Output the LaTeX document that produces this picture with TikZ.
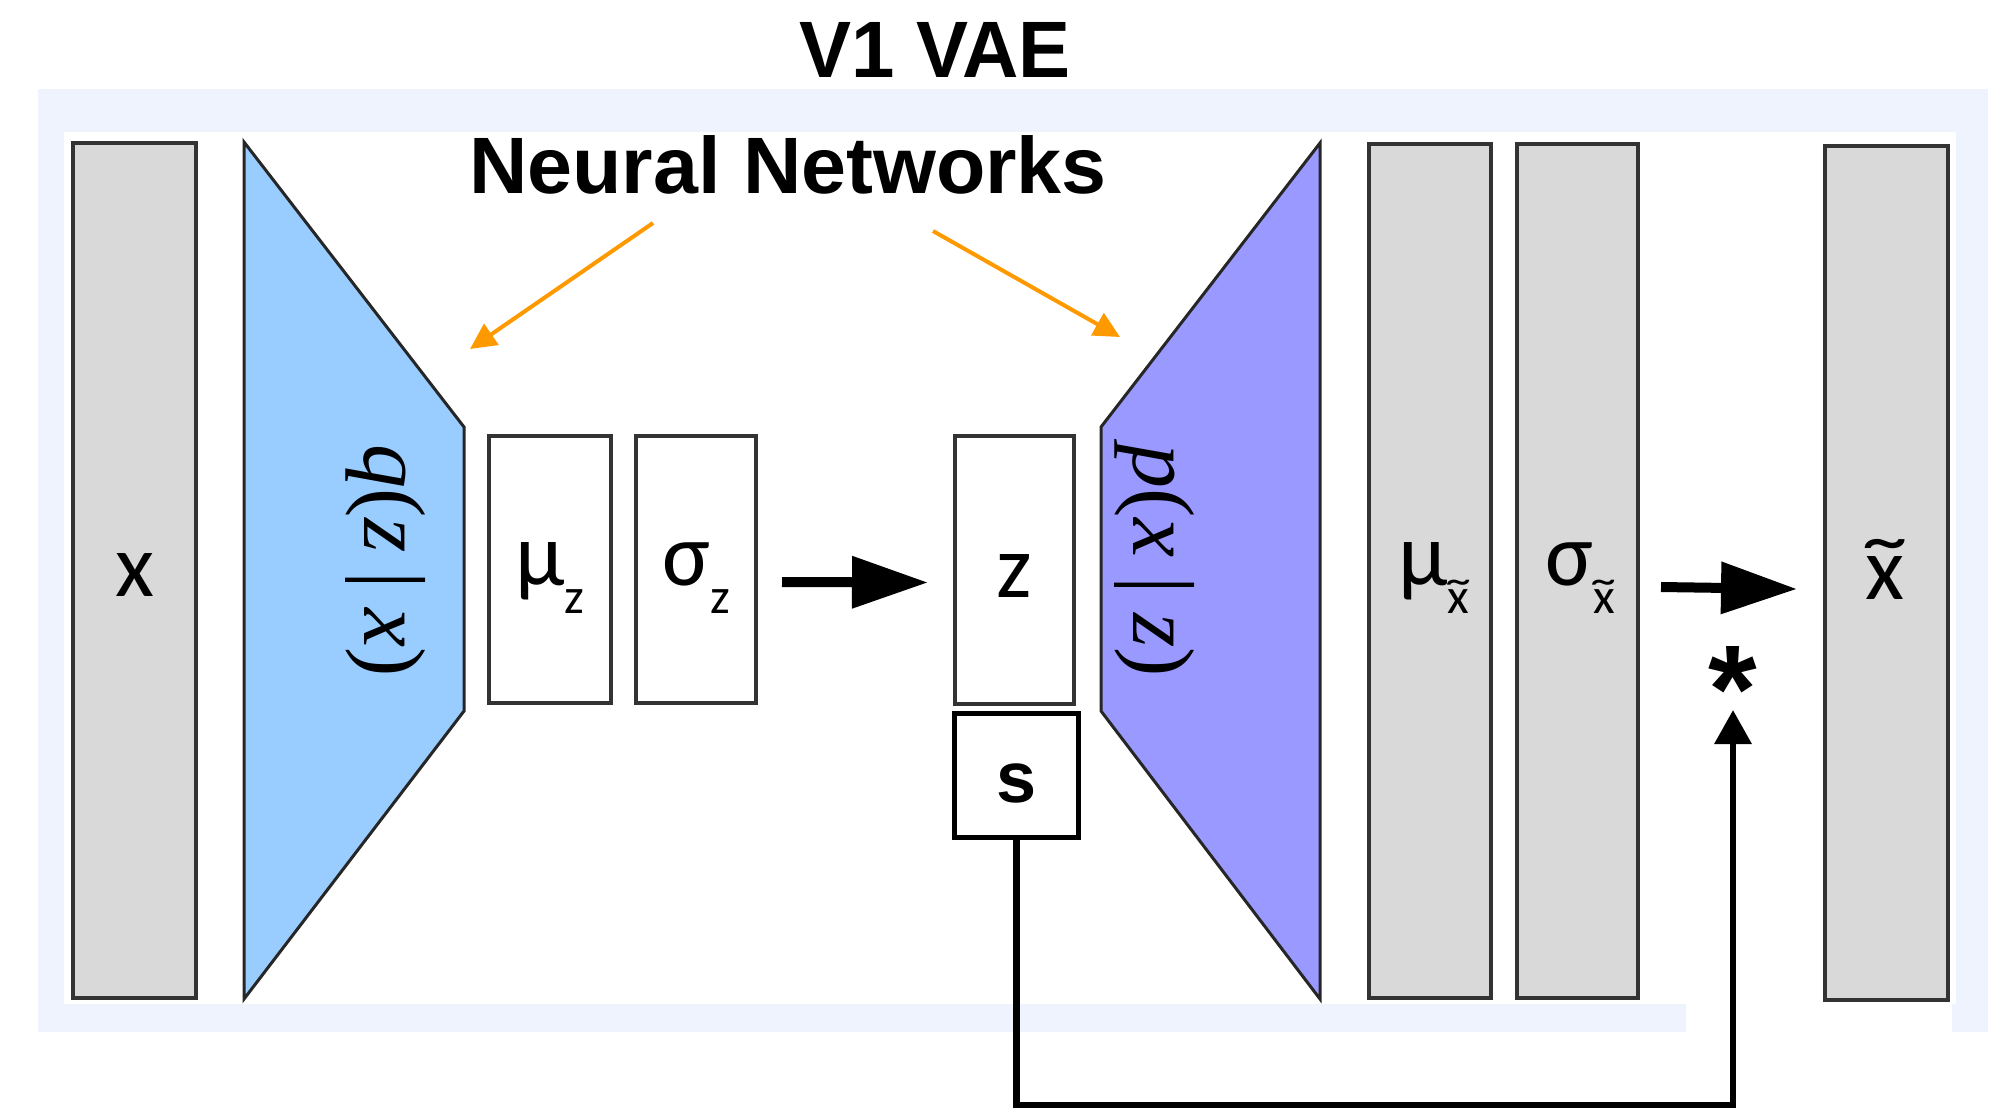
\documentclass[tikz,border=0pt]{standalone}
\usepackage[no-math]{fontspec}
\usepackage{graphicx}
\usetikzlibrary{arrows.meta}

\newfontfamily\headfont{Liberation Sans}
\newfontfamily\cellfont{Carlito}
\newfontfamily\netfont{Liberation Serif}

\definecolor{bgblue}{HTML}{EEF3FD}
\definecolor{boxgray}{HTML}{D9D9D9}
\definecolor{edgegray}{HTML}{333333}
\definecolor{encblue}{HTML}{99CCFF}
\definecolor{decviolet}{HTML}{9999FF}
\definecolor{nnorange}{HTML}{FF9900}

% lowered subscript for the statistic labels
\newcommand\lowsub[1]{\raisebox{-28pt}{\fontsize{50}{50}\selectfont #1}}
% x with a widened tilde set above it
\newcommand\tilx{\ooalign{x\cr\hidewidth\scalebox{1.6}[1]{\char"02DC}\hidewidth\cr}}
% conditional density written with italic letters and upright delimiters
\newcommand\cond[3]{\textit{#1}(\textit{#2}\hspace{0.22em}|\hspace{0.22em}\textit{#3})}

\begin{document}
\begin{tikzpicture}[x=1pt,y=-1pt,
  layer/.style={draw=edgegray, fill=boxgray, line width=3.5pt, outer sep=0pt, inner sep=0pt},
  stat/.style={draw=edgegray, fill=white, line width=3.5pt, outer sep=0pt, inner sep=0pt},
  cell/.style={font=\cellfont\fontsize{90}{90}\selectfont, anchor=base, inner sep=0pt},
  heading/.style={font=\headfont\bfseries\fontsize{80}{80}\selectfont, anchor=base, inner sep=0pt},
  netlabel/.style={font=\netfont\fontsize{88}{88}\selectfont, rotate=-90, inner sep=0pt},
  net/.style={draw=black!85, line width=3pt, line join=miter},
  flow/.style={line width=10pt, -{Triangle[length=76pt,width=50pt]}},
  pointer/.style={draw=nnorange, line width=4pt, -{Triangle[length=26pt,width=25pt]}},
  link/.style={line width=6.5pt, -{Triangle[length=34pt,width=36pt]}},
]
\useasboundingbox (0,0) rectangle (2012,1109);

% framed panel
\fill[bgblue] (38,89) rectangle (1988,1032);
\fill[white] (64,132) rectangle (1956,1004);
\fill[white] (1686,1004) rectangle (1952,1033);

% headings
\node[heading] (title) at (935,77) {\scalebox{0.975}[1]{V1 VAE}};
\node[heading] (nn) at (788,193) {\scalebox{1.01}[1]{Neural Networks}};

% encoder and decoder networks
\filldraw[net, fill=encblue] (244,142) -- (464,427) -- (464,711) -- (244,999) -- cycle;
\filldraw[net, fill=decviolet] (1320,143) -- (1101,427) -- (1101,711) -- (1320,999) -- cycle;
\node[netlabel] (qlab) at (386,561) {\cond{q}{z}{x}};
\node[netlabel] (plab) at (1155,561) {\cond{p}{x}{z}};

% input and output layers
\node[layer, minimum width=123, minimum height=855] (inx) at (134.5,570.5) {};
\node[layer, minimum width=122, minimum height=854] (mux) at (1430,571) {};
\node[layer, minimum width=121, minimum height=854] (sigx) at (1577.5,571) {};
\node[layer, minimum width=123, minimum height=854] (outx) at (1886.5,573) {};

% latent statistics
\node[stat, minimum width=122, minimum height=267] (muz) at (550,569.5) {};
\node[stat, minimum width=120, minimum height=267] (sigz) at (696,569.5) {};
\node[stat, minimum width=119, minimum height=268] (z) at (1014.5,570) {};
\node[draw=black, fill=white, line width=4.7pt, outer sep=0pt, inner sep=0pt,
      minimum width=124, minimum height=124] (sbox) at (1016.5,775.5) {};

% labels
\node[cell] (inxlab) at (134.5,596) {x};
\node[cell] (muzlab) at (550,585) {μ\lowsub{z}};
\node[cell] (sigzlab) at (696,585) {σ\lowsub{z}};
\node[cell] (zlab) at (1014.5,597) {z};
\node[cell] (muxlab) at (1434,585) {μ\lowsub{\tilx}};
\node[cell] (sigxlab) at (1580,585) {σ\lowsub{\tilx}};
\node[cell] (outxlab) at (1885,599) {\tilx};
\node[heading, font=\headfont\bfseries\fontsize{72}{72}\selectfont] (slab) at (1017,802) {s};
\node[font=\headfont\bfseries\fontsize{125}{125}\selectfont, inner sep=0pt] (star) at (1733,689) {*};

% flow arrows
\draw[flow] ([shift={(26,12.5)}]sigz.east) -- ([shift={(-27,12.5)}]z.west);
\draw[flow] ([shift={(23,16)}]sigx.east) -- ([shift={(-28,16)}]outx.west);

% pointers from the heading to the two networks
\coordinate (encfrom) at (653,223);
\coordinate (encto) at (470,349);
\coordinate (decfrom) at (933,231);
\coordinate (decto) at (1120,337);
\draw[pointer] (encfrom) -- (encto);
\draw[pointer] (decfrom) -- (decto);

% path from s to the product
\coordinate (loop) at (1016.5,1105);
\coordinate (startip) at (1733,710);
\draw[link] (sbox.south) -- (loop) -| (startip);

\end{tikzpicture}
\end{document}
